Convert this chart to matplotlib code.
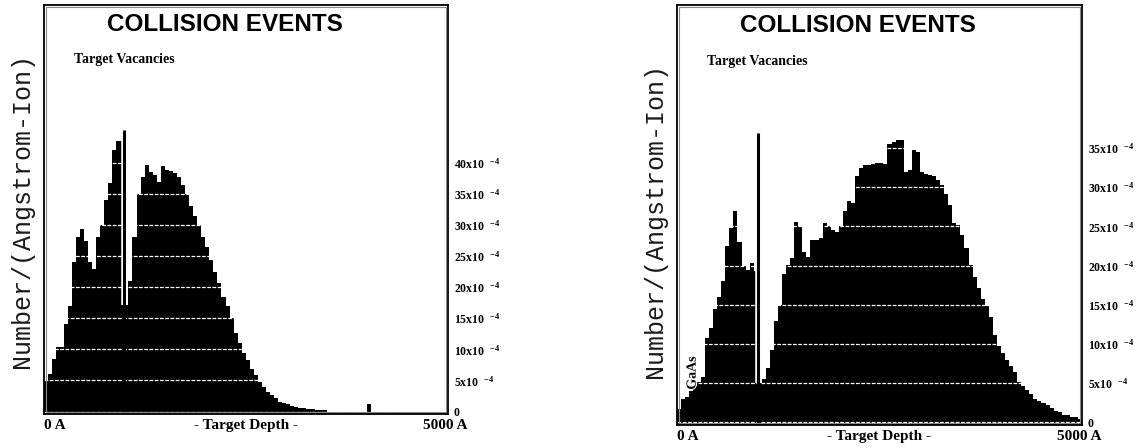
import numpy as np
import matplotlib.pyplot as plt
import matplotlib.patheffects as pe
from matplotlib.patches import Rectangle

plt.rcParams['mathtext.default'] = 'regular'

# depth bins, 50 A wide, 0..5000 A
depth = np.arange(0, 5000, 50)
bin_w = 50

# target vacancies per (Angstrom-Ion), in units of 1e-4
vac_left = [5.0, 6.0, 8.5, 10.4, 10.4, 14.0, 16.9, 24.0, 28.0, 29.4,
            27.5, 24.0, 23.0, 28.1, 30.0, 34.0, 36.7, 42.0, 43.6, 43.6,
            17.1, 21.0, 28.0, 35.0, 37.7, 39.6, 38.5, 38.0, 36.9, 39.5,
            38.8, 38.7, 38.3, 37.8, 36.5, 35.0, 33.0, 31.5, 30.0, 28.0,
            26.5, 24.4, 22.5, 20.6, 18.5, 17.0, 15.0, 12.6, 11.0, 9.4,
            8.3, 6.9, 5.9, 4.8, 4.0, 3.2, 2.7, 2.1, 1.6, 1.3,
            1.2, 0.9, 0.8, 0.6, 0.5, 0.4, 0.4, 0.3, 0.3, 0.2,
            0, 0, 0, 0, 0, 0, 0, 0, 0, 0,
            1.2, 0, 0, 0, 0, 0, 0, 0, 0, 0,
            0, 0, 0, 0, 0, 0, 0, 0, 0, 0]

vac_right = [1.7, 3.0, 3.2, 4.0, 4.6, 5.2, 5.8, 10.8, 12.0, 14.5,
             16.0, 18.0, 22.5, 24.8, 27.0, 23.0, 20.0, 19.5, 20.3, 19.3,
             5.0, 5.5, 7.0, 9.2, 13.0, 15.0, 19.0, 20.1, 21.0, 25.6,
             25.0, 21.8, 21.1, 23.3, 23.3, 23.5, 25.4, 25.0, 24.6, 24.3,
             25.0, 27.0, 28.2, 28.0, 31.5, 32.4, 32.8, 32.8, 33.0, 33.1,
             33.1, 33.0, 35.5, 35.8, 36.0, 36.0, 32.0, 32.2, 34.8, 34.5,
             32.0, 31.7, 31.6, 31.4, 30.9, 30.3, 29.2, 27.8, 25.5, 25.2,
             23.9, 22.2, 20.1, 18.6, 17.1, 15.8, 14.8, 13.5, 11.2, 9.7,
             8.8, 8.0, 7.2, 6.4, 5.2, 4.7, 4.2, 3.6, 3.0, 2.8,
             2.5, 2.2, 1.9, 1.5, 1.3, 1.0, 0.9, 0.7, 0.7, 0.5]

# layer interface line at 1000 A
iface_depth = 1000
iface_left = 45.3
iface_right = 36.9

ticks_left = [0, 5, 10, 15, 20, 25, 30, 35, 40]
ticks_right = [0, 5, 10, 15, 20, 25, 30, 35]

serif = 'Liberation Serif'


def tick_text(v):
    return '0' if v == 0 else f'{v}x10$\\;\\;^{{-4}}$'


def panel(rect, vals, spike, ticks, ylim):
    ax = fig.add_axes(rect)
    ax.set_xlim(0, 5000)
    ax.set_ylim(*ylim)
    ymin = ylim[0]
    h = [v - ymin for v in vals]
    ax.bar(depth, h, width=bin_w, bottom=ymin, align='edge',
           color='black', linewidth=0, zorder=1)
    # white dashed level lines through the histogram
    for t in ticks:
        ax.axhline(t, color='white', lw=0.9, ls=(0, (3, 1.2)), zorder=2)
    # interface marker: white margin above the dip, then the black line
    dip = vals[iface_depth // bin_w]
    ax.vlines(iface_depth, dip, spike, color='white', lw=4.0, zorder=3)
    ax.vlines(iface_depth, ymin, spike, color='black', lw=2.2, zorder=3)

    ax.yaxis.tick_right()
    ax.set_yticks(ticks, [tick_text(t) for t in ticks],
                  fontfamily=serif, fontweight='bold', fontsize=8.5)
    ax.tick_params(axis='y', length=0, pad=4)
    ax.set_xticks([])
    for s in ax.spines.values():
        s.set_linewidth(1.3)
        s.set_color('black')
    ax.add_patch(Rectangle((0.005, 0.004), 0.99, 0.992, transform=ax.transAxes,
                           fill=False, edgecolor='#8a8a8a', lw=0.8, zorder=4))

    ax.text(0.4475, 0.952, 'COLLISION EVENTS', transform=ax.transAxes,
            ha='center', va='center', fontsize=17.5, fontweight='bold',
            fontfamily='Liberation Sans')
    ax.text(0.075, 0.866, 'Target Vacancies', transform=ax.transAxes,
            ha='left', va='center', fontsize=10, fontweight='bold',
            fontfamily=serif)

    # depth axis annotations
    tr = ax.get_xaxis_transform()
    ax.text(0, -0.027, '0 A', transform=tr, ha='left', va='center',
            fontsize=11, fontweight='bold', fontfamily=serif)
    ax.text(2500, -0.027, '- Target Depth -', transform=tr, ha='center',
            va='center', fontsize=11, fontweight='bold', fontfamily=serif)
    ax.text(4960, -0.027, '5000 A', transform=tr, ha='center', va='center',
            fontsize=11, fontweight='bold', fontfamily=serif)
    return ax


fig = plt.figure(figsize=(11.46, 4.48), dpi=100)

ax1 = panel([0.03796, 0.07589, 0.35297, 0.91295], vac_left, iface_left,
            ticks_left, (-0.4, 65.4))
ax2 = panel([0.59049, 0.05134, 0.35366, 0.9375], vac_right, iface_right,
            ticks_right, (-0.32, 53.25))

ax2.text(190, 6.3, 'GaAs', rotation=90, ha='center', va='center',
         fontsize=10, fontweight='bold', fontfamily=serif, color='black',
         zorder=5, path_effects=[pe.withStroke(linewidth=1.5, foreground='white')])

for x, y in [(22, 210), (655, 220)]:
    fig.text(x / 1146, 1 - y / 448, 'Number/(Angstrom-Ion)', rotation=90,
             ha='center', va='center', fontsize=18,
             fontfamily='Liberation Mono', color='#1a1a1a')

fig.savefig('out.png', dpi=100)
